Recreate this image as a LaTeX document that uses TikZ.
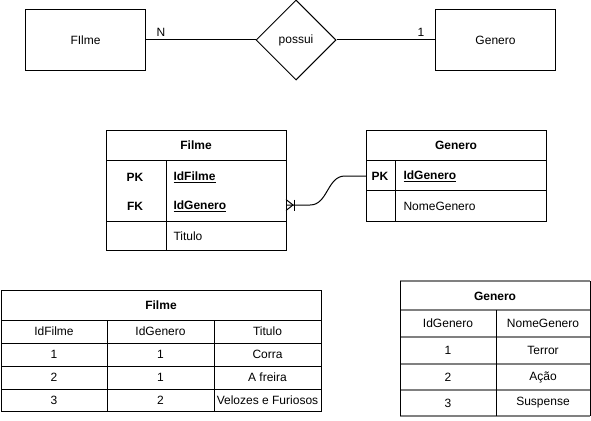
\documentclass[tikz,border=0pt]{standalone}
\usepackage{fontspec}
\setmainfont{Liberation Sans}
\usetikzlibrary{shapes.geometric}
\begin{document}
\begin{tikzpicture}[x=1pt,y=-1pt, line width=1pt, font=\fontsize{12}{14}\selectfont,
  ent/.style={draw, minimum width=120pt, minimum height=60pt, inner sep=0pt},
  rel/.style={draw, diamond, minimum width=80pt, minimum height=80pt, inner sep=0pt},
  txt/.style={inner sep=0pt, anchor=center},
  ltxt/.style={inner sep=0pt, anchor=west},
  btxt/.style={inner sep=0pt, anchor=center, font=\fontsize{12}{14}\selectfont\bfseries},
  gline/.style={draw=black!50, line width=1.6pt},
  tline/.style={draw=black, line width=1pt}]
\useasboundingbox (0,0) rectangle (591,420);

% ---------- conceptual model ----------
\node[ent] (fe) at (85.5,40) {FIlme};
\node[rel] (po) at (296,40) {possui};
\node[ent] (ge) at (495.5,40) {Genero};
\draw (fe) -- (po);
\draw (po) -- (ge);
\node[txt] (ln) at (161,32) {N};
\node[txt] (l1) at (421,32) {1};

% ---------- logical model: Filme ----------
\draw[tline] (106,130) rectangle (286,250);
\draw[tline] (106,160) -- (286,160);
\draw[tline] (106,221) -- (286,221);
\draw[tline] (166,160) -- (166,250);
\node[btxt] (fh) at (196,145) {Filme};
\node[btxt] (fpk) at (135,177) {PK};
\node[btxt] (ffk) at (135,206) {FK};
\node[ltxt, font=\fontsize{12}{14}\selectfont\bfseries] (fid) at (173,177) {\underline{IdFilme}};
\node[ltxt, font=\fontsize{12}{14}\selectfont\bfseries] (fidg) at (173,206) {\underline{IdGenero}};
\node[ltxt] (ftit) at (173,236) {Titulo};

% ---------- logical model: Genero ----------
\draw[tline] (366,130) rectangle (546,221);
\draw[tline] (366,160) -- (546,160);
\draw[tline] (366,190) -- (546,190);
\draw[tline] (395,160) -- (395,221);
\node[btxt] (gh) at (456,145) {Genero};
\node[btxt] (gpk) at (380,176) {PK};
\node[ltxt, font=\fontsize{12}{14}\selectfont\bfseries] (gid) at (403,176) {\underline{IdGenero}};
\node[ltxt] (gnm) at (403,206) {NomeGenero};

% ---------- relationship connector ----------
\coordinate (cf) at (286,205);
\coordinate (cg) at (366,176);
\draw (cf) -- (310,205) .. controls (328,205) and (327,176) .. (345,176) -- (cg);
\draw (286,199.5) -- (293,205) -- (286,210.5);
\draw (294,199.5) -- (294,210.5);

% ---------- data table: Filme ----------
\draw[tline] (1,290) rectangle (321,411);
\draw[tline] (1,320) -- (321,320);
\draw[tline] (1,343) -- (321,343);
\draw[tline] (1,366) -- (321,366);
\draw[tline] (1,389) -- (321,389);
\draw[tline] (107,320) -- (107,411);
\draw[tline] (214,320) -- (214,411);
\node[btxt] (th) at (161,305) {Filme};
\node[txt] (tc1) at (54,331.5) {IdFilme};
\node[txt] (tc2) at (160.5,331.5) {IdGenero};
\node[txt] (tc3) at (267.5,331.5) {Titulo};
\node[txt] (t11) at (54,354.5) {1};
\node[txt] (t12) at (160.5,354.5) {1};
\node[txt] (t13) at (267.5,354.5) {Corra};
\node[txt] (t21) at (54,377.5) {2};
\node[txt] (t22) at (160.5,377.5) {1};
\node[txt] (t23) at (267.5,377.5) {A freira};
\node[txt] (t31) at (54,400) {3};
\node[txt] (t32) at (160.5,400) {2};
\node[txt] (t33) at (267.5,400) {Velozes e Furiosos};

% ---------- data table: Genero ----------
\draw[gline] (400,281) -- (590,281);
\draw[gline] (400,310) -- (590,310);
\draw[gline] (400,337) -- (590,337);
\draw[gline] (400,364) -- (590,364);
\draw[gline] (400,390) -- (590,390);
\draw[gline] (400,416) -- (590,416);
\draw[tline] (400,281) -- (400,416);
\draw[tline] (590,281) -- (590,416);
\draw[tline] (496,310) -- (496,416);
\node[btxt] (uh) at (495,296) {Genero};
\node[txt] (uc1) at (448,323.5) {IdGenero};
\node[txt] (uc2) at (543,323.5) {NomeGenero};
\node[txt] (u11) at (448,350.5) {1};
\node[txt] (u12) at (543,350.5) {Terror};
\node[txt] (u21) at (448,377) {2};
\node[txt] (u22) at (543,377) {Ação};
\node[txt] (u31) at (448,403) {3};
\node[txt] (u32) at (543,403) {Suspense};
\end{tikzpicture}
\end{document}
